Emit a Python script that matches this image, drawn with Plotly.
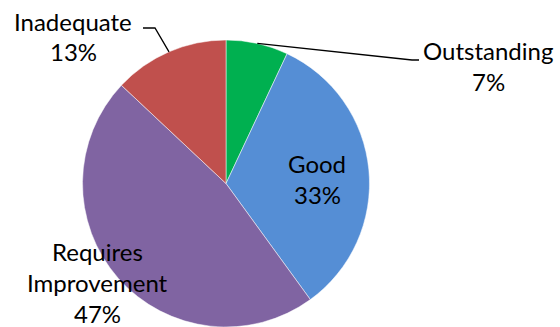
import math
import plotly.graph_objects as go

categories = ["Outstanding", "Good", "Requires Improvement", "Inadequate"]
values = [7, 33, 47, 13]
colors = ["#00B050", "#558ED5", "#8064A2", "#C0504D"]
label_lines = [["Outstanding", "7%"], ["Good", "33%"], ["Requires", "Improvement", "47%"], ["Inadequate", "13%"]]

W, H = 560, 327
CX, CY, R = 226, 183.5, 143.5  # pixel geometry of the pie


def px(x):
    return x / W


def py(y):
    return 1 - y / H


fig = go.Figure(go.Pie(
    labels=categories, values=values, sort=False, direction="clockwise", rotation=0,
    marker=dict(colors=colors, line=dict(color="white", width=0.5)),
    textinfo="none", hoverinfo="label+percent", showlegend=False,
    domain=dict(x=[px(CX - R), px(CX + R)], y=[py(CY + R), py(CY - R)]),
))

total = sum(values)
cum = 0
mid_angles = []
for v in values:
    mid_angles.append((cum + v / 2) / total * 2 * math.pi)
    cum += v


def edge(a, r=R):
    return CX + r * math.sin(a), CY - r * math.cos(a)


FONT = dict(family="Lato", size=24, color="#000000")
ann = []
shapes = []
label_pos = {
    0: (488, 51),
    1: (317, 163),
    2: (97, 251),
    3: (73, 21),
}
LS = 31
for i, lines in enumerate(label_lines):
    x0, y0 = label_pos[i]
    for k, t in enumerate(lines):
        ann.append(dict(text=t, x=px(x0), y=py(y0 + k * LS), xref="paper", yref="paper",
                        xanchor="center", yanchor="middle", showarrow=False, font=FONT))

ex, ey = edge(mid_angles[0])
shapes.append(dict(type="path", xref="paper", yref="paper",
                   path=f"M {px(ex)} {py(ey)} L {px(412)} {py(60)} L {px(419)} {py(60)}",
                   line=dict(color="black", width=1.3)))
ex, ey = edge(mid_angles[3])
shapes.append(dict(type="path", xref="paper", yref="paper",
                   path=f"M {px(ex)} {py(ey)} L {px(155)} {py(28)} L {px(143)} {py(28)}",
                   line=dict(color="black", width=1.3)))

fig.update_layout(width=W, height=H, margin=dict(l=0, r=0, t=0, b=0),
                  paper_bgcolor="white", plot_bgcolor="white",
                  annotations=ann, shapes=shapes)
fig.write_html("out.html", config={"displayModeBar": False},
               post_script="document.body.style.margin='0';document.body.style.overflow='hidden';")
